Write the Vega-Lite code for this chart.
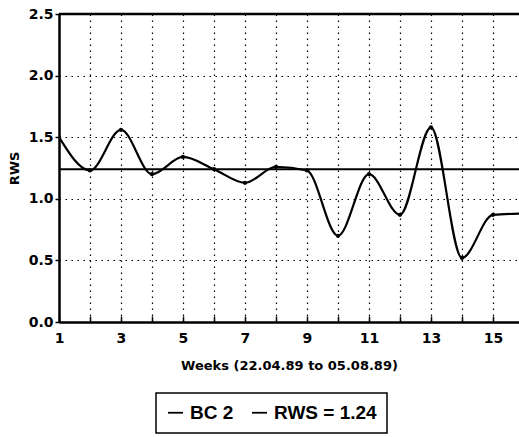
{
  "$schema": "https://vega.github.io/schema/vega-lite/v6.json",
  "width": 460,
  "height": 308,
  "autosize": {"type": "none"},
  "padding": {"left": 59, "top": 14, "right": 0, "bottom": 115},
  "background": "white",
  "config": {
    "view": {"stroke": null},
    "font": "DejaVu Sans",
    "axis": {
      "domainColor": "black",
      "domainWidth": 2.5,
      "tickColor": "black",
      "tickWidth": 1.5,
      "labelColor": "black",
      "labelFont": "DejaVu Sans",
      "labelFontWeight": "bold",
      "labelFontSize": 14,
      "titleColor": "black",
      "titleFont": "DejaVu Sans",
      "titleFontWeight": "bold",
      "titleFontSize": 13,
      "grid": true,
      "gridColor": "black",
      "gridOpacity": 1,
      "gridDash": [1.5, 4.5],
      "gridWidth": 1.2
    },
    "legend": {
      "orient": "none",
      "legendX": 97,
      "legendY": 379,
      "direction": "horizontal",
      "strokeColor": "black",
      "strokeWidth": 1.5,
      "padding": 10,
      "symbolType": "stroke",
      "symbolStrokeWidth": 1.8,
      "symbolSize": 225,
      "symbolStrokeColor": "black",
      "labelFont": "Liberation Sans",
      "labelFontSize": 19,
      "labelFontWeight": "bold",
      "labelColor": "black",
      "columnPadding": 14,
      "labelOffset": 5
    }
  },
  "datasets": {
    "bc2": [
      {"week": 1, "rws": 1.5, "series": "BC 2"},
      {"week": 2, "rws": 1.23, "series": "BC 2"},
      {"week": 3, "rws": 1.56, "series": "BC 2"},
      {"week": 4, "rws": 1.2, "series": "BC 2"},
      {"week": 5, "rws": 1.34, "series": "BC 2"},
      {"week": 6, "rws": 1.24, "series": "BC 2"},
      {"week": 7, "rws": 1.13, "series": "BC 2"},
      {"week": 8, "rws": 1.26, "series": "BC 2"},
      {"week": 9, "rws": 1.23, "series": "BC 2"},
      {"week": 10, "rws": 0.7, "series": "BC 2"},
      {"week": 11, "rws": 1.2, "series": "BC 2"},
      {"week": 12, "rws": 0.87, "series": "BC 2"},
      {"week": 13, "rws": 1.58, "series": "BC 2"},
      {"week": 14, "rws": 0.52, "series": "BC 2"},
      {"week": 15, "rws": 0.87, "series": "BC 2"},
      {"week": 16, "rws": 0.88, "series": "BC 2"}
    ],
    "mean": [{"rws": 1.24, "series": "RWS = 1.24"}]
  },
  "layer": [
    {
      "data": {"name": "bc2"},
      "mark": {"type": "line", "interpolate": "monotone", "strokeWidth": 2.2, "clip": true, "point": {"filled": true, "size": 18, "color": "black"}},
      "encoding": {
        "x": {
          "field": "week",
          "type": "quantitative",
          "scale": {"domain": [1, 15.84], "nice": false, "zero": false},
          "axis": {
            "values": [1, 2, 3, 4, 5, 6, 7, 8, 9, 10, 11, 12, 13, 14, 15],
            "labelExpr": "datum.value % 2 == 1 ? datum.label : ''",
            "tickSize": -6,
            "labelPadding": 15,
            "labelFlush": false,
            "title": "Weeks (22.04.89 to 05.08.89)",
            "titlePadding": 14
          }
        },
        "y": {
          "field": "rws",
          "type": "quantitative",
          "scale": {"domain": [0, 2.5], "nice": false},
          "axis": {
            "values": [0, 0.5, 1, 1.5, 2, 2.5],
            "format": ".1f",
            "tickSize": 4,
            "labelPadding": 2,
            "title": "RWS",
            "titlePadding": 7
          }
        },
        "color": {
          "field": "series",
          "type": "nominal",
          "scale": {"domain": ["BC 2", "RWS = 1.24"], "range": ["black", "black"]},
          "legend": {"title": null}
        }
      }
    },
    {
      "data": {"name": "mean"},
      "mark": {"type": "rule", "strokeWidth": 1.8},
      "encoding": {
        "y": {"field": "rws", "type": "quantitative"},
        "color": {"field": "series", "type": "nominal"}
      }
    },
    {
      "data": {"name": "mean"},
      "mark": {"type": "rule", "strokeWidth": 2.5, "color": "black"},
      "encoding": {
        "y": {"datum": 2.5}
      }
    }
  ]
}
